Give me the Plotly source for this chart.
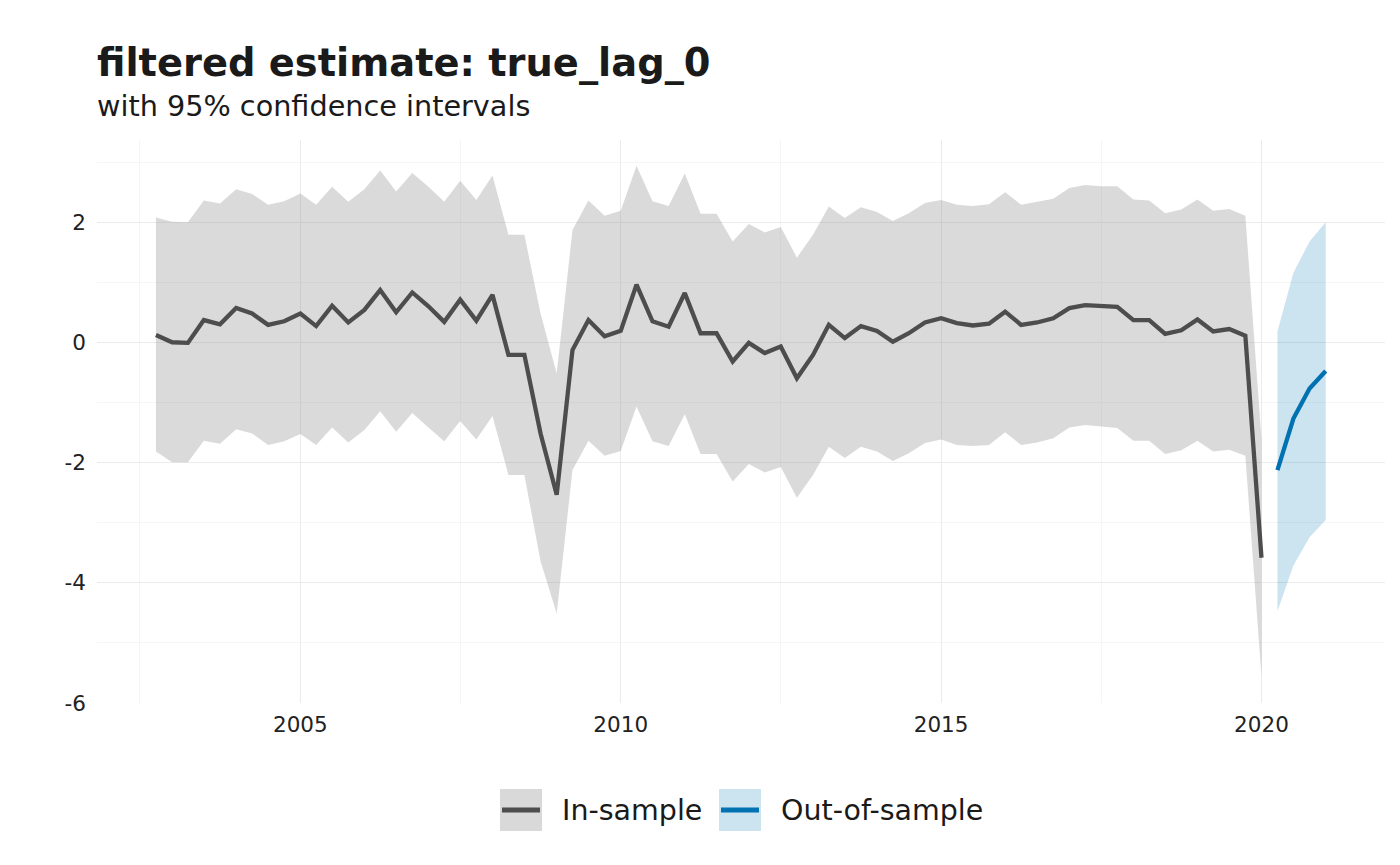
import pandas as pd
import plotly.graph_objects as go

# ---------------- data ----------------
in_dates = pd.date_range(start="2002-10-01", periods=70, freq="QS")
in_mean = [0.13, 0.01, 0.00, 0.38, 0.31, 0.58, 0.49, 0.30, 0.36, 0.49,
           0.28, 0.62, 0.34, 0.55, 0.88, 0.51, 0.84, 0.61, 0.35, 0.72,
           0.37, 0.80, -0.20, -0.20, -1.51, -2.53, -0.12, 0.38, 0.11, 0.20,
           0.97, 0.36, 0.27, 0.83, 0.16, 0.16, -0.31, 0.00, -0.17, -0.06,
           -0.59, -0.20, 0.30, 0.08, 0.28, 0.20, 0.02, 0.16, 0.34, 0.41,
           0.33, 0.29, 0.32, 0.52, 0.30, 0.34, 0.41, 0.58, 0.63, 0.61,
           0.60, 0.38, 0.38, 0.15, 0.21, 0.39, 0.19, 0.23, 0.12, -3.58]
in_upper = [2.09, 2.02, 2.01, 2.37, 2.32, 2.56, 2.48, 2.30, 2.36, 2.49,
            2.30, 2.60, 2.35, 2.56, 2.87, 2.52, 2.83, 2.60, 2.35, 2.70,
            2.38, 2.79, 1.80, 1.80, 0.49, -0.51, 1.88, 2.37, 2.12, 2.20,
            2.95, 2.36, 2.28, 2.82, 2.15, 2.15, 1.69, 1.98, 1.84, 1.93,
            1.42, 1.80, 2.27, 2.08, 2.26, 2.18, 2.03, 2.16, 2.33, 2.38,
            2.30, 2.28, 2.31, 2.51, 2.30, 2.35, 2.40, 2.58, 2.63, 2.61,
            2.61, 2.39, 2.37, 2.16, 2.22, 2.39, 2.20, 2.23, 2.12, -1.60]
in_lower = [-1.81, -1.99, -1.99, -1.63, -1.68, -1.44, -1.51, -1.70, -1.64, -1.52,
            -1.70, -1.41, -1.66, -1.45, -1.14, -1.48, -1.17, -1.41, -1.64, -1.30,
            -1.61, -1.22, -2.20, -2.20, -3.64, -4.51, -2.12, -1.63, -1.88, -1.80,
            -1.06, -1.64, -1.72, -1.19, -1.85, -1.85, -2.31, -2.02, -2.16, -2.07,
            -2.58, -2.20, -1.73, -1.92, -1.73, -1.81, -1.97, -1.84, -1.67, -1.61,
            -1.70, -1.72, -1.70, -1.49, -1.70, -1.66, -1.59, -1.41, -1.37, -1.40,
            -1.42, -1.63, -1.63, -1.85, -1.79, -1.63, -1.81, -1.78, -1.88, -5.55]

out_dates = pd.date_range(start="2020-04-01", periods=4, freq="QS")
out_mean = [-2.12, -1.26, -0.76, -0.47]
out_upper = [0.19, 1.17, 1.69, 2.01]
out_lower = [-4.47, -3.71, -3.24, -2.95]

y_tickvals = [-6, -4, -2, 0, 2]
y_ticktext = ["-6", "-4", "-2", "0", "2"]
legend_labels = ["In-sample", "Out-of-sample"]
title_text = "filtered estimate: true_lag_0"
subtitle_text = "with 95% confidence intervals"

# ---------------- style ----------------
W, H = 1400, 865
ML, MR, MT, MB = 97, 15, 140, 162
GRAY_LINE = "#4D4D4D"
GRAY_FILL = "rgba(127,127,127,0.29)"
GRAY_KEY = "#D9D9D9"
BLUE_LINE = "#0072B2"
BLUE_FILL = "rgba(0,114,178,0.2)"
BLUE_KEY = "#CCE3F0"
FONT = "DejaVu Sans"
TXT = "#1A1A1A"
TICK = "#222222"

pw = W - ML - MR
ph = H - MT - MB


def px(xp):
    return (xp - ML) / pw


def py(yp):
    return (H - MB - yp) / ph


fig = go.Figure()

fig.add_trace(go.Scatter(
    x=list(in_dates) + list(in_dates[::-1]),
    y=in_upper + in_lower[::-1],
    fill="toself", fillcolor=GRAY_FILL, line=dict(width=0),
    mode="lines", hoverinfo="skip", showlegend=False))
fig.add_trace(go.Scatter(
    x=in_dates, y=in_mean, mode="lines",
    line=dict(color=GRAY_LINE, width=4.3), name=legend_labels[0], showlegend=False))

fig.add_trace(go.Scatter(
    x=list(out_dates) + list(out_dates[::-1]),
    y=out_upper + out_lower[::-1],
    fill="toself", fillcolor=BLUE_FILL, line=dict(width=0),
    mode="lines", hoverinfo="skip", showlegend=False))
fig.add_trace(go.Scatter(
    x=out_dates, y=out_mean, mode="lines",
    line=dict(color=BLUE_LINE, width=4.3), name=legend_labels[1], showlegend=False))

# ---------------- manual legend (ggplot-like keys) ----------------
shapes = []
annotations = []
keys = [(500, GRAY_KEY, GRAY_LINE, 560, legend_labels[0]),
        (719, BLUE_KEY, BLUE_LINE, 779, legend_labels[1])]
for kx, kfill, kline, tx, lab in keys:
    shapes.append(dict(type="rect", xref="paper", yref="paper",
                       x0=px(kx), x1=px(kx + 42), y0=py(831), y1=py(789),
                       fillcolor=kfill, line=dict(width=0), layer="above"))
    shapes.append(dict(type="line", xref="paper", yref="paper",
                       x0=px(kx + 2), x1=px(kx + 40), y0=py(810), y1=py(810),
                       line=dict(color=kline, width=5), layer="above"))
    annotations.append(dict(text=lab, xref="paper", yref="paper",
                            x=px(tx), y=py(810), xanchor="left", yanchor="middle",
                            showarrow=False, font=dict(family=FONT, size=28.5, color=TXT)))

annotations.append(dict(text="<b>" + title_text + "</b>", xref="paper", yref="paper",
                        x=px(95), y=py(62), xanchor="left", yanchor="middle",
                        showarrow=False, font=dict(family=FONT, size=38.4, color=TXT)))
annotations.append(dict(text=subtitle_text, xref="paper", yref="paper",
                        x=px(95), y=py(106), xanchor="left", yanchor="middle",
                        showarrow=False, font=dict(family=FONT, size=28.7, color=TXT)))

fig.update_layout(
    width=W, height=H,
    margin=dict(l=ML, r=MR, t=MT, b=MB),
    paper_bgcolor="white", plot_bgcolor="white",
    shapes=shapes, annotations=annotations,
    showlegend=False,
    font=dict(family=FONT, color=TXT),
)

fig.update_xaxes(
    type="date",
    range=["2001-10-30", "2021-12-05"],
    tick0="2005-01-01", dtick="M60", tickformat="%Y",
    showgrid=True, gridcolor="#EBEBEB", gridwidth=1.2,
    minor=dict(dtick="M30", tick0="2005-01-01", showgrid=True,
               gridcolor="#F5F5F5", gridwidth=0.8),
    zeroline=False, showline=False, ticks="",
    tickfont=dict(family=FONT, size=21.5, color=TICK),
    ticklabelstandoff=6,
)
fig.update_yaxes(
    range=[-6.0, 3.38],
    tickmode="array", tickvals=y_tickvals, ticktext=y_ticktext,
    showgrid=True, gridcolor="#EBEBEB", gridwidth=1.2,
    minor=dict(dtick=1, tick0=0, showgrid=True, gridcolor="#F5F5F5", gridwidth=0.8),
    zeroline=False, showline=False, ticks="",
    tickfont=dict(family=FONT, size=21.5, color=TICK),
    ticklabelstandoff=10,
)

fig.write_html("out.html", config={"displayModeBar": False},
               post_script="document.body.style.margin='0';")
